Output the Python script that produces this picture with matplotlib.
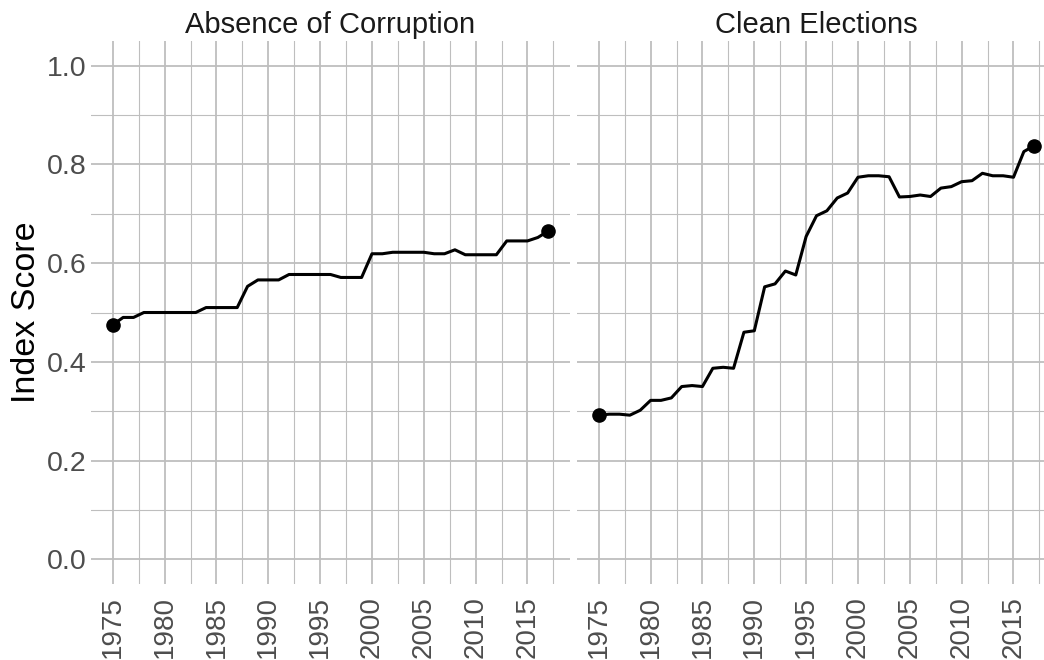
import numpy as np
import matplotlib
matplotlib.use("Agg")
import matplotlib.pyplot as plt
from matplotlib.ticker import MultipleLocator

plt.rcParams["font.family"] = ["Liberation Sans", "DejaVu Sans"]

# ---------------------------------------------------------------------------
# Data
# ---------------------------------------------------------------------------
years = list(range(1975, 2018))

corruption = [0.475, 0.490, 0.490, 0.500, 0.500, 0.500, 0.500, 0.500, 0.500,
              0.510, 0.510, 0.510, 0.510, 0.553, 0.566, 0.566, 0.566, 0.577,
              0.577, 0.577, 0.577, 0.577, 0.571, 0.571, 0.571, 0.619, 0.619,
              0.622, 0.622, 0.622, 0.622, 0.619, 0.619, 0.627, 0.617, 0.617,
              0.617, 0.617, 0.645, 0.645, 0.645, 0.652, 0.665]

elections = [0.292, 0.294, 0.294, 0.292, 0.302, 0.322, 0.322, 0.327, 0.350,
             0.352, 0.350, 0.387, 0.389, 0.387, 0.460, 0.463, 0.552, 0.558,
             0.584, 0.576, 0.654, 0.696, 0.706, 0.732, 0.742, 0.774, 0.777,
             0.777, 0.775, 0.734, 0.735, 0.738, 0.735, 0.752, 0.755, 0.765,
             0.767, 0.782, 0.777, 0.777, 0.774, 0.826, 0.838]

panels = [("Absence of Corruption", corruption), ("Clean Elections", elections)]

GRID = "#BEBEBE"
TICK_TXT = "#4D4D4D"

W, H = 1044, 660
fig = plt.figure(figsize=(W / 100, H / 100), dpi=100)

# panel boxes in pixels: left, right, top, bottom (right panel runs past the edge)
boxes = [(91, 570, 41, 584), (577, 1056, 41, 584)]

x0, x1 = 1975 - 0.05 * 42, 2017 + 0.05 * 42

for i, ((title, vals), (l, r, t, b)) in enumerate(zip(panels, boxes)):
    ax = fig.add_axes([l / W, 1 - b / H, (r - l) / W, (b - t) / H])
    ax.set_xlim(x0, x1)
    ax.set_ylim(-0.05, 1.05)
    for s in ax.spines.values():
        s.set_visible(False)
    ax.xaxis.set_major_locator(MultipleLocator(5))
    ax.xaxis.set_minor_locator(MultipleLocator(2.5))
    ax.yaxis.set_major_locator(MultipleLocator(0.2))
    ax.yaxis.set_minor_locator(MultipleLocator(0.1))
    ax.grid(True, which="major", color=GRID, linewidth=1.3)
    ax.grid(True, which="minor", color=GRID, linewidth=0.8)
    ax.set_axisbelow(True)
    ax.tick_params(which="both", length=0)
    ax.tick_params(axis="x", labelrotation=90, labelsize=20, labelcolor=TICK_TXT, pad=8.5)
    ax.tick_params(axis="y", labelsize=20.5, labelcolor=TICK_TXT, pad=3)
    ax.yaxis.set_major_formatter(lambda v, p: f"{v:.1f}")
    if i == 1:
        ax.tick_params(axis="y", labelleft=False)
    else:
        ax.set_ylabel("Index Score", fontsize=24.5, labelpad=4)

    ax.plot(years, vals, color="black", linewidth=2.2, solid_joinstyle="round")
    ax.scatter([years[0], years[-1]], [vals[0], vals[-1]], s=90, color="black",
               zorder=5, clip_on=False)
    fig.text(((l + min(r, 1056)) / 2) / W, 1 - 25 / H, title, ha="center",
             va="center", fontsize=21, color="#1A1A1A")

fig.savefig("out.png", dpi=100, facecolor="white")
